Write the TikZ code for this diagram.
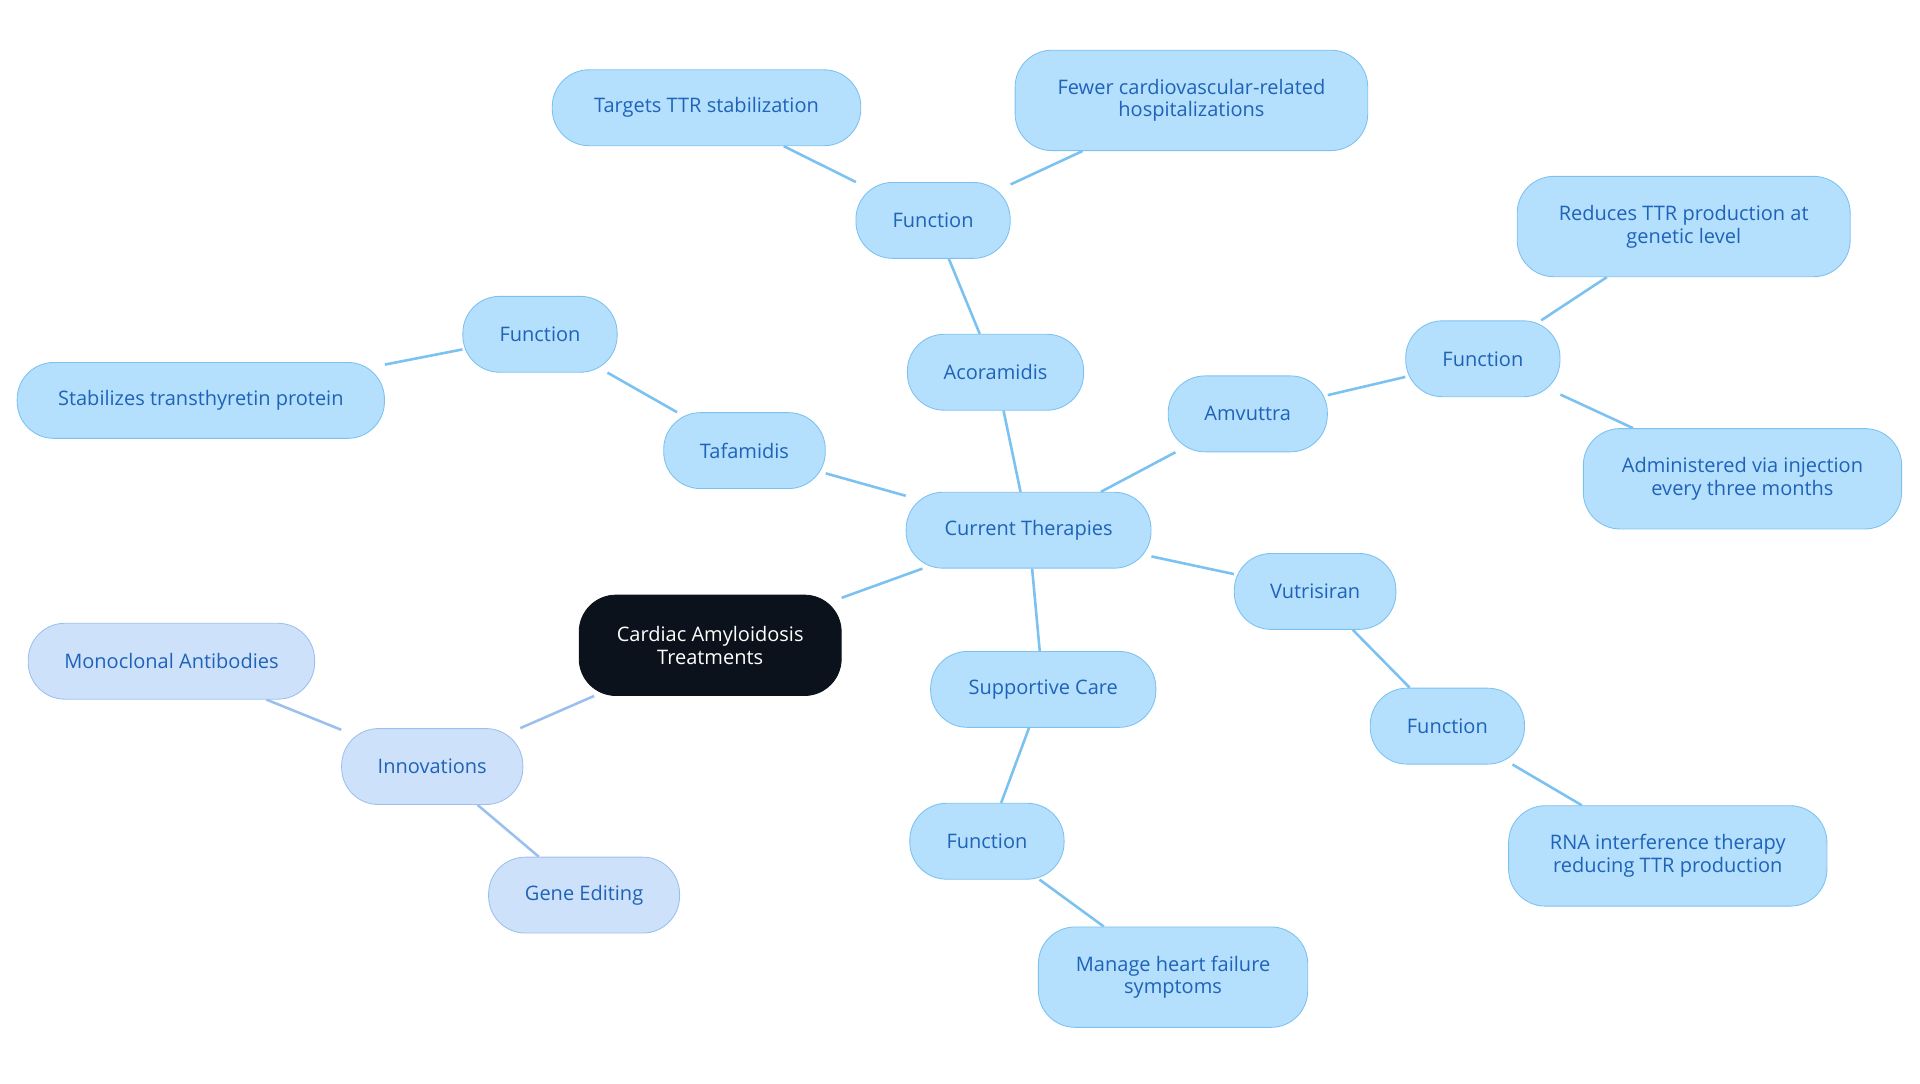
\documentclass[tikz,border=0pt]{standalone}
\usepackage{fontspec}
\setmainfont{Open Sans}
\usetikzlibrary{positioning,backgrounds}
\definecolor{leaffill}{HTML}{B4DFFD}
\definecolor{leafline}{HTML}{7CC2F0}
\definecolor{leaftext}{HTML}{1F63B8}
\definecolor{innofill}{HTML}{CDE1FA}
\definecolor{innoline}{HTML}{9CC0EE}
\definecolor{rootfill}{HTML}{0B121B}
\tikzset{
  topic/.style={draw=leafline, fill=leaffill, text=leaftext, rounded corners=0.6cm,
    minimum height=1.24cm, align=center, font=\fontsize{9.3}{10.5}\selectfont, inner sep=2pt},
  inno/.style={topic, draw=innoline, fill=innofill},
  link/.style={draw=leafline, line width=1.2pt},
  innolink/.style={draw=innoline, line width=1.2pt}
}
\begin{document}
\begin{tikzpicture}[x=0.02cm,y=-0.02cm]
\useasboundingbox (0,0) rectangle (1568,885);
% hub and branches
\node[topic, draw=rootfill, fill=rootfill, text=white, minimum width=4.28cm, minimum height=1.64cm] (root) at (580,527) {Cardiac Amyloidosis\\Treatments};
\node[topic, minimum width=4cm] (current) at (840,433) {Current Therapies};
\node[topic, minimum width=2.64cm] (tafa) at (608,368) {Tafamidis};
\node[topic, minimum width=2.52cm] (tafafn) at (441,273) {Function};
\node[topic, minimum width=6cm] (tafaleaf) at (164,327) {Stabilizes transthyretin protein};
\node[topic, minimum width=2.88cm] (acora) at (813,304) {Acoramidis};
\node[topic, minimum width=2.52cm] (acorafn) at (762,180) {Function};
\node[topic, minimum width=5.04cm] (acoraleafa) at (577,88) {Targets TTR stabilization};
\node[topic, minimum width=5.76cm, minimum height=1.64cm] (acoraleafb) at (973,82) {Fewer cardiovascular-related\\hospitalizations};
\node[topic, minimum width=2.6cm] (amvu) at (1019,338) {Amvuttra};
\node[topic, minimum width=2.52cm] (amvufn) at (1211,293) {Function};
\node[topic, minimum width=5.44cm, minimum height=1.64cm] (amvuleafa) at (1375,185) {Reduces TTR production at\\genetic level};
\node[topic, minimum width=5.2cm, minimum height=1.64cm] (amvuleafb) at (1423,391) {Administered via injection\\every three months};
\node[topic, minimum width=2.64cm] (vutri) at (1074,483) {Vutrisiran};
\node[topic, minimum width=2.52cm] (vutrifn) at (1182,593) {Function};
\node[topic, minimum width=5.2cm, minimum height=1.64cm] (vutrileaf) at (1362,699) {RNA interference therapy\\reducing TTR production};
\node[topic, minimum width=3.68cm] (support) at (852,563) {Supportive Care};
\node[topic, minimum width=2.52cm] (supportfn) at (806,687) {Function};
\node[topic, minimum width=4.4cm, minimum height=1.64cm] (supportleaf) at (958,798) {Manage heart failure\\symptoms};
\node[inno, minimum width=2.96cm] (innov) at (353,626) {Innovations};
\node[inno, minimum width=4.68cm] (mono) at (140,540) {Monoclonal Antibodies};
\node[inno, minimum width=3.12cm] (gene) at (477,731) {Gene Editing};
% connectors
\begin{scope}[on background layer]
\draw[link] (root) -- (current);
\foreach \a/\b in {current/tafa,tafa/tafafn,tafafn/tafaleaf,current/acora,acora/acorafn,acorafn/acoraleafa,acorafn/acoraleafb,current/amvu,amvu/amvufn,amvufn/amvuleafa,amvufn/amvuleafb,current/vutri,vutri/vutrifn,vutrifn/vutrileaf,current/support,support/supportfn,supportfn/supportleaf}
  \draw[link] (\a) -- (\b);
\foreach \a/\b in {root/innov,innov/mono,innov/gene}
  \draw[innolink] (\a) -- (\b);
\end{scope}
\end{tikzpicture}
\end{document}
